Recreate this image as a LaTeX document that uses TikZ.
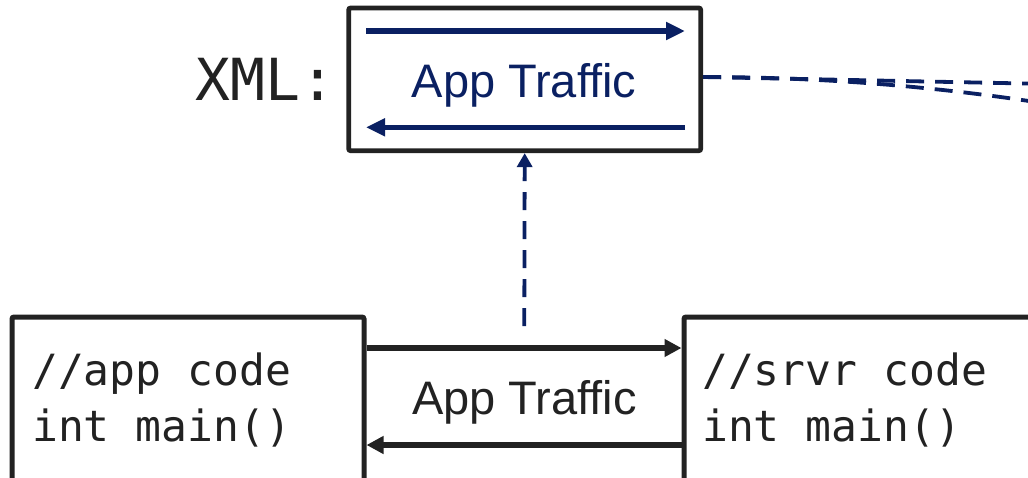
\documentclass[tikz,border=0pt]{standalone}
\usepackage{fontspec}
\setmainfont[Ligatures=NoCommon]{Liberation Sans}
\newfontfamily\codefont{DejaVu Sans Mono}
\usetikzlibrary{arrows.meta,calc}
\definecolor{ink}{HTML}{222222}
\definecolor{navy}{HTML}{0A2062}
\begin{document}
\begin{tikzpicture}[x=1pt,y=-1pt,
  frame/.style={draw=ink, fill=white, inner sep=0pt, rounded corners=2pt},
  xmlbox/.style={frame, line width=4.8pt},
  codebox/.style={frame, line width=5pt, anchor=north west},
  codetext/.style={font=\codefont\fontsize{43}{52}\selectfont, text=ink, anchor=base west, inner sep=0pt},
  tag/.style={font=\codefont\fontsize{58}{64}\selectfont, text=ink, anchor=base west, inner sep=0pt},
  label/.style={font=\fontsize{47}{56}\selectfont, anchor=base, inner sep=0pt},
  flow/.style={draw=ink, line width=5.5pt, -{Triangle[length=17pt,width=17pt]}},
  inflow/.style={draw=navy, line width=5.5pt, -{Triangle[length=19pt,width=17pt]}},
  link/.style={draw=navy, line width=3.8pt, dash pattern=on 18pt off 11pt},
]
\useasboundingbox (0,0) rectangle (1028,477);
\clip (0,0) rectangle (1028,477);

% endpoint boxes (they run past the lower and right edges)
\node[codebox, minimum width=352pt, minimum height=260pt] (app) at (9.5,314.5) {};
\node[codebox, minimum width=500pt, minimum height=260pt] (srv) at (681.5,314.5) {};
\node[codetext] (appl1) at (32,385) {//app code};
\node[codetext] (appl2) at (32,441) {int main()};
\node[codetext] (srvl1) at (702,385) {//srvr code};
\node[codetext] (srvl2) at (702,441) {int main()};

% traffic between the programs
\coordinate (upper) at (0,348);
\coordinate (lower) at (0,445);
\draw[flow] (app.east |- upper) -- (srv.west |- upper);
\draw[flow] (srv.west |- lower) -- (app.east |- lower);
\node[label, text=ink] (mid) at (524.5,414.3) {App Traffic};

% XML view of the traffic
\node[xmlbox, minimum width=352pt, minimum height=142.7pt] (xml) at (524.7,79.35) {};
\node[tag] (xmltag) at (195.5,100.7) {XML:};
\node[label, text=navy] (xmltext) at (524,97.7) {App Traffic};
\coordinate (fwdA) at (366,31);
\coordinate (fwdB) at (685,31);
\coordinate (bwdA) at (685,127.3);
\coordinate (bwdB) at (366,127.3);
\draw[inflow] (fwdA) -- (fwdB);
\draw[inflow] (bwdA) -- (bwdB);

% capture link from the wire up to the XML view
\coordinate (tap) at (524.3,326);
\draw[link, -{Triangle[length=14pt,width=15pt]}] (tap) -- (xml.south);

% links leaving the XML view to the right
\coordinate (out) at (xml.east |- 0,77);
\coordinate (farA) at (1060,84.2);
\coordinate (farB) at (1060,105.8);
\draw[link] (out) -- (farA);
\draw[link] (out) .. controls (822,77) and (941,86.6) .. (farB);
\end{tikzpicture}
\end{document}
